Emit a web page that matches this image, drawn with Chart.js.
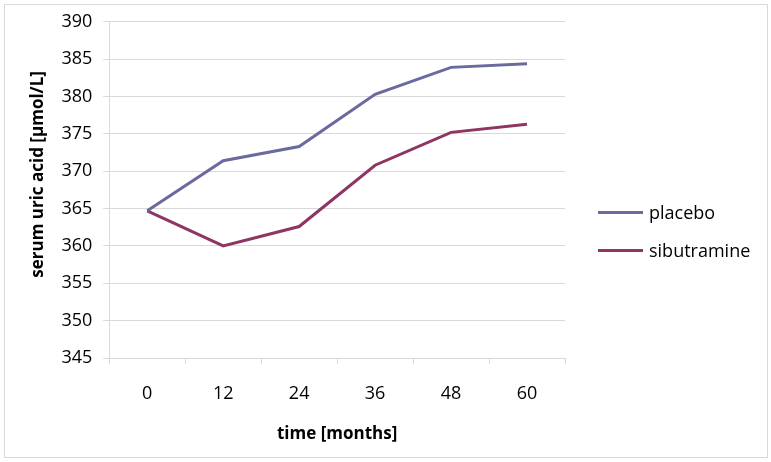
<!DOCTYPE html>
<html>
<head>
<meta charset="utf-8">
<script src="https://cdn.jsdelivr.net/npm/chart.js"></script>
<style>
  html, body { margin: 0; padding: 0; background: #fff; }
  #wrap { position: relative; width: 771px; height: 462px; }
  #frame { position: absolute; left: 4px; top: 4px; width: 762px; height: 452px; border: 1px solid #d9d9d9; pointer-events: none; }
  canvas { position: absolute; left: 0; top: 0; }
  #legend { position: absolute; left: 598px; top: 200px; font-family: 'Open Sans'; font-size: 18px; color: #000; }
  #legend .item { display: flex; align-items: center; height: 24px; margin-bottom: 14px; }
  #legend .swatch { width: 45px; height: 3px; margin-right: 6px; }
</style>
</head>
<body>
<div id="wrap">
  <canvas id="uricChart" width="771" height="462"></canvas>
  <div id="legend"></div>
  <div id="frame"></div>
</div>
<script>
// donnees
var months = ['0', '12', '24', '36', '48', '60'];
var placebo = [364.7, 371.4, 373.3, 380.3, 383.9, 384.4];
var sibutramine = [364.7, 360.0, 362.6, 370.8, 375.2, 376.3];
var yMin = 345, yMax = 390, yStep = 5;

(function() {
    'use strict';

    var font = 'Open Sans';
    var gridColor = '#d9d9d9';

    var ctx = document.getElementById('uricChart');

    var chart = new Chart(ctx, {
        type: 'line',
        data: {
            labels: months,
            datasets: [{
                label: 'placebo',
                data: placebo,
                borderColor: '#6a6a9e',
                backgroundColor: '#6a6a9e',
                borderWidth: 3,
                pointRadius: 0,
                tension: 0,
                fill: false
            }, {
                label: 'sibutramine',
                data: sibutramine,
                borderColor: '#8e3564',
                backgroundColor: '#8e3564',
                borderWidth: 3,
                pointRadius: 0,
                tension: 0,
                fill: false
            }]
        },
        options: {
            responsive: false,
            animation: false,
            devicePixelRatio: 1,
            layout: {
                padding: { top: 19, bottom: 18, left: 28, right: 206 }
            },
            plugins: {
                legend: { display: false },
                tooltip: { enabled: false }
            },
            scales: {
                x: {
                    offset: true,
                    grid: {
                        offset: true,
                        drawOnChartArea: false,
                        drawTicks: true,
                        tickLength: 6,
                        color: gridColor
                    },
                    border: { display: true, color: gridColor },
                    ticks: {
                        padding: 19,
                        color: '#000',
                        font: { family: font, size: 18 }
                    },
                    title: {
                        display: true,
                        text: 'time [months]',
                        color: '#000',
                        padding: { top: 0, bottom: 0 },
                        font: { family: font, size: 17, weight: 'bold' }
                    }
                },
                y: {
                    min: yMin,
                    max: yMax,
                    grid: {
                        color: gridColor,
                        tickLength: 6
                    },
                    border: { display: true, color: gridColor },
                    ticks: {
                        stepSize: yStep,
                        padding: 11,
                        color: '#000',
                        font: { family: font, size: 18 }
                    },
                    title: {
                        display: true,
                        text: '       serum uric acid [µmol/L]',
                        color: '#000',
                        padding: { top: 0, bottom: 2 },
                        font: { family: font, size: 17, weight: 'bold' }
                    }
                }
            }
        }
    });

    // legende en HTML, construite depuis les datasets
    var legend = document.getElementById('legend');
    chart.data.datasets.forEach(function(ds) {
        var item = document.createElement('div');
        item.className = 'item';
        var sw = document.createElement('span');
        sw.className = 'swatch';
        sw.style.background = ds.borderColor;
        var txt = document.createElement('span');
        txt.textContent = ds.label;
        item.appendChild(sw);
        item.appendChild(txt);
        legend.appendChild(item);
    });
})();
</script>
</body>
</html>
